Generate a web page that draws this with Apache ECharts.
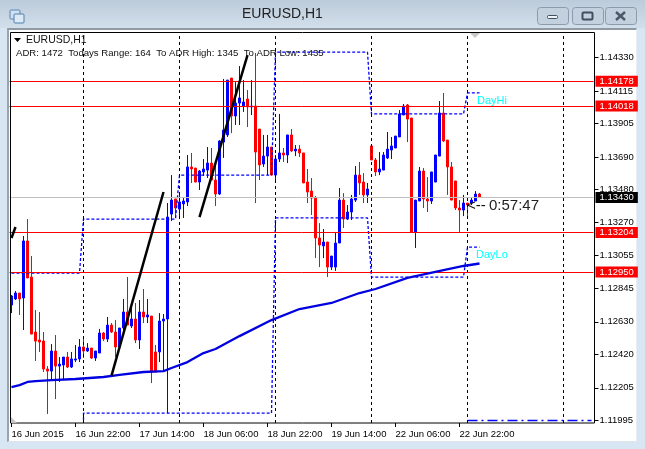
<!DOCTYPE html>
<html><head><meta charset="utf-8">
<script src="https://cdn.jsdelivr.net/npm/echarts@6/dist/echarts.min.js"></script>
<style>
html,body{margin:0;padding:0;width:645px;height:449px;overflow:hidden;background:#d8e5f2}
#top{position:absolute;left:0;top:0;width:645px;height:28px;background:linear-gradient(#bccbda,#d2dfeb)}
#panel{position:absolute;left:7px;top:28px;width:630px;height:414px;background:#fff;border-top:2px solid #8f9aa5;border-left:2px solid #9aa4ae;box-sizing:border-box;border-right:1px solid #e8eef4;border-bottom:1px solid #dfe4e9}
#c{position:absolute;left:0;top:0;width:645px;height:449px}
</style></head><body>
<div id="top"></div><div id="panel"></div><div id="c"></div>
<script>
const opens=[1.12738,1.12777,1.12815,1.12783,1.13150,1.12918,1.12564,1.12513,1.12506,1.12326,1.12313,1.12442,1.12345,1.12352,1.12403,1.12339,1.12384,1.12391,1.12468,1.12442,1.12461,1.12397,1.12429,1.12558,1.12519,1.12609,1.12564,1.12468,1.12590,1.12693,1.12603,1.12648,1.12513,1.12693,1.12661,1.12667,1.12436,1.12436,1.12635,1.12648,1.13323,1.13420,1.13355,1.13388,1.13401,1.13626,1.13619,1.13529,1.13594,1.13606,1.13651,1.13542,1.13452,1.13786,1.13832,1.14198,1.13954,1.14037,1.14018,1.14063,1.14012,1.14018,1.13870,1.13645,1.13696,1.13754,1.13574,1.13677,1.13716,1.13703,1.13832,1.13729,1.13741,1.13716,1.13529,1.13471,1.13426,1.13169,1.13118,1.13143,1.12982,1.12982,1.13137,1.13413,1.13291,1.13336,1.13413,1.13574,1.13529,1.13446,1.13761,1.13671,1.13594,1.13606,1.13684,1.13735,1.13748,1.13819,1.13960,1.14025,1.13941,1.13208,1.13407,1.13600,1.13420,1.13407,1.13529,1.13696,1.13973,1.13799,1.13626,1.13536,1.13362,1.13349,1.13394,1.13394,1.13407,1.13452];
const closes=[1.12796,1.12815,1.12777,1.13150,1.12912,1.12551,1.12506,1.12500,1.12326,1.12313,1.12442,1.12345,1.12358,1.12403,1.12339,1.12391,1.12391,1.12468,1.12442,1.12461,1.12397,1.12442,1.12558,1.12519,1.12609,1.12564,1.12468,1.12590,1.12693,1.12609,1.12648,1.12513,1.12693,1.12661,1.12674,1.12307,1.12307,1.12635,1.12648,1.13304,1.13413,1.13362,1.13401,1.13407,1.13626,1.13613,1.13529,1.13600,1.13613,1.13651,1.13542,1.13452,1.13793,1.13864,1.14185,1.13954,1.14037,1.14070,1.14044,1.14012,1.14018,1.13722,1.13639,1.13696,1.13754,1.13574,1.13677,1.13716,1.13703,1.13832,1.13729,1.13741,1.13716,1.13523,1.13465,1.13426,1.13169,1.13124,1.13143,1.12982,1.13053,1.13137,1.13413,1.13291,1.13336,1.13420,1.13574,1.13523,1.13446,1.13484,1.13671,1.13594,1.13613,1.13703,1.13741,1.13761,1.13825,1.13967,1.14018,1.13934,1.13208,1.13413,1.13600,1.13420,1.13407,1.13594,1.13703,1.13973,1.13793,1.13626,1.13413,1.13362,1.13349,1.13394,1.13381,1.13413,1.13452,1.13430];
const lows=[1.12686,1.12770,1.12674,1.12577,1.12912,1.12551,1.12378,1.12436,1.12307,1.12037,1.12255,1.12133,1.12243,1.12255,1.12333,1.12333,1.12371,1.12371,1.12397,1.12436,1.12391,1.12378,1.12429,1.12506,1.12500,1.12558,1.12403,1.12448,1.12577,1.12609,1.12590,1.12493,1.12455,1.12622,1.12622,1.12236,1.12307,1.12371,1.12307,1.12043,1.13278,1.13298,1.13291,1.13298,1.13375,1.13523,1.13529,1.13478,1.13568,1.13555,1.13542,1.13375,1.13446,1.13684,1.13819,1.13844,1.13896,1.13896,1.13980,1.13883,1.13960,1.13394,1.13542,1.13626,1.13574,1.13574,1.13542,1.13658,1.13658,1.13651,1.13722,1.13696,1.13690,1.13523,1.13394,1.13317,1.13040,1.12982,1.13040,1.12918,1.12963,1.12957,1.13137,1.13233,1.13285,1.13285,1.13401,1.13446,1.13394,1.13394,1.13671,1.13568,1.13574,1.13606,1.13677,1.13677,1.13748,1.13819,1.13960,1.13786,1.13208,1.13105,1.13407,1.13362,1.13336,1.13388,1.13529,1.13696,1.13786,1.13446,1.13413,1.13349,1.13208,1.13310,1.13298,1.13381,1.13407,1.13426];
const highs=[1.12802,1.12828,1.12815,1.13182,1.13291,1.13053,1.12706,1.12693,1.12564,1.12345,1.12487,1.12545,1.12403,1.12403,1.12436,1.12436,1.12481,1.12519,1.12526,1.12493,1.12461,1.12442,1.12584,1.12564,1.12661,1.12622,1.12641,1.12590,1.12777,1.12918,1.12725,1.12751,1.12770,1.12841,1.12777,1.12667,1.12481,1.12686,1.12680,1.13394,1.13574,1.13420,1.13465,1.13426,1.13703,1.13716,1.13619,1.13606,1.13677,1.13754,1.13748,1.13671,1.13799,1.14192,1.14185,1.14198,1.14172,1.14275,1.14185,1.14121,1.14185,1.14359,1.13870,1.13832,1.13832,1.13754,1.13703,1.13967,1.13748,1.13832,1.13870,1.13767,1.13767,1.13716,1.13613,1.13555,1.13439,1.13265,1.13227,1.13143,1.13053,1.13208,1.13491,1.13458,1.13381,1.13446,1.13632,1.13658,1.13587,1.13523,1.13767,1.13684,1.13722,1.13722,1.13851,1.13819,1.13825,1.13992,1.14031,1.14031,1.13941,1.13413,1.13626,1.13619,1.13561,1.13594,1.13703,1.14050,1.14102,1.13799,1.13658,1.13536,1.13413,1.13446,1.13394,1.13433,1.13471,1.13458];
const maLine=[[0,1.12210],[2,1.12223],[4,1.12243],[6,1.12249],[10,1.12255],[16,1.12262],[23,1.12275],[27,1.12288],[33,1.12307],[38,1.12313],[40,1.12333],[44,1.12371],[48,1.12429],[51,1.12455],[57,1.12538],[65,1.12641],[72,1.12712],[80,1.12751],[87,1.12815],[91,1.12841],[99,1.12912],[108,1.12963],[113,1.12989],[117,1.13005]];
const dayHigh=[[0,1.12944],[17,1.12944],[18,1.13291],[41,1.13291],[42,1.13574],[65,1.13574],[66,1.14365],[89,1.14365],[90,1.13967],[113,1.13967],[114,1.14102],[117,1.14102]];
const dayLow=[[18,1.11999],[18,1.12043],[65,1.12043],[66,1.13298],[89,1.13298],[90,1.12918],[113,1.12918],[114,1.13111],[117,1.13111]];
const pivotLine=[[114,1.11995],[145,1.11995]];
const trendA=[[25,1.12284],[38,1.13465]];
const trendB=[[47,1.13304],[59,1.14346]];
const trendC=[[0,1.13169],[1,1.13240]];
const redLevels=[1.14178,1.14018,1.13204,1.12950];
const lastPrice=1.13430;
const separators=[18,42,66,90,114,138];
const yTicks=[1.14330,1.14115,1.13905,1.13690,1.13480,1.13270,1.13055,1.12845,1.12630,1.12420,1.12205,1.11995];
const xLabels={0:'16 Jun 2015',16:'16 Jun 22:00',32:'17 Jun 14:00',48:'18 Jun 06:00',64:'18 Jun 22:00',80:'19 Jun 14:00',96:'22 Jun 06:00',112:'22 Jun 22:00'};
const slotCount=146;

const categories=Array.from({length:slotCount},(_,i)=>xLabels[i]||'');
const candles=opens.map((o,i)=>[o,closes[i],lows[i],highs[i]]);
const UI='"Liberation Sans",Arial,sans-serif';
const flag=(v,bg)=>({yAxis:v,label:{show:true,position:'end',distance:2,formatter:v.toFixed(5),color:'#fff',backgroundColor:bg,padding:[1,4,0,4],lineHeight:10,fontSize:9.5,fontFamily:UI}});
const lineS=(data,color,width,type,z)=>({type:'line',data,showSymbol:false,silent:true,z,lineStyle:{color,width,type},itemStyle:{color}});

const chart=echarts.init(document.getElementById('c'),null,{renderer:'canvas'});
chart.setOption({
 animation:false,
 backgroundColor:'transparent',
 grid:{left:9.5,top:32.5,width:584,height:390.5},
 xAxis:{type:'category',data:categories,boundaryGap:true,
  axisLine:{show:false},
  axisTick:{show:true,alignWithLabel:true,length:4,lineStyle:{color:'#000'},interval:(i)=>xLabels[i]!==undefined},
  axisLabel:{show:true,interval:(i)=>xLabels[i]!==undefined,align:'left',margin:6,fontSize:9.5,color:'#000',fontFamily:UI,hideOverlap:false},
  splitLine:{show:false}},
 yAxis:{type:'value',position:'right',offset:1,min:1.11979,max:1.14491,scale:true,
  axisLine:{show:false},
  axisTick:{show:true,length:4,lineStyle:{color:'#000'},customValues:yTicks},
  axisLabel:{show:true,customValues:yTicks,margin:5,fontSize:9.5,color:'#000',fontFamily:UI,formatter:(v)=>v.toFixed(5)},
  splitLine:{show:false}},
 series:[
  {type:'line',data:[],silent:true,z:1,markLine:{precision:5,silent:true,symbol:'none',animation:false,
    lineStyle:{color:'#c0c0c0',width:1,type:'solid'},
    data:[flag(lastPrice,'#000')]}},
  {type:'candlestick',data:candles,barWidth:3,silent:true,z:2,clip:true,
   itemStyle:{color:'#0000ff',color0:'#ff0000',borderColor:'#0000ff',borderColor0:'#ff0000',borderWidth:1}},
  {type:'line',data:[],silent:true,z:3,markLine:{silent:true,symbol:'none',animation:false,
    lineStyle:{color:'#000',width:1,type:[3,3]},label:{show:false},
    data:separators.map(i=>({xAxis:i}))}},
  lineS(dayHigh,'#0000ff',1.3,[3,2],4),
  lineS(dayLow,'#0000ff',1.3,[3,2],4),
  lineS(pivotLine,'#0000ff',1.3,[10,4,2,4],4),
  lineS(maLine,'#0000e0',2.3,'solid',5),
  lineS(trendA,'#000',2.5,'solid',6),
  lineS(trendB,'#000',2.5,'solid',6),
  lineS(trendC,'#000',2.5,'solid',6),
  {type:'line',data:[],silent:true,z:7,markLine:{precision:5,silent:true,symbol:'none',animation:false,
    lineStyle:{color:'#ff0000',width:1,type:'solid'},
    data:redLevels.map(v=>flag(v,'#ff0000'))}}
 ],
 graphic:[
  {type:'rect',z:50,shape:{x:10.5,y:32.5,width:584,height:390.5},style:{fill:'none',stroke:'#000',lineWidth:1}},
  {type:'polygon',z:51,shape:{points:[[11,417],[11,423],[17,423]]},style:{fill:'#c4c4c4'}},
  {type:'polygon',z:51,shape:{points:[[470,33],[480,33],[475,38]]},style:{fill:'#c8c8c8'}},
  {type:'polygon',z:51,shape:{points:[[14,38],[21,38],[17.5,42]]},style:{fill:'#000'}},
  {type:'text',z:51,x:26,y:35,style:{text:'EURUSD,H1',font:'10.5px '+UI,fill:'#111'}},
  {type:'text',z:51,x:16,y:48,style:{text:'ADR: 1472  Todays Range: 164  To ADR High: 1345  To ADR Low: 1435',font:'9.6px '+UI,fill:'#111'}},
  {type:'text',z:51,x:242,y:7,style:{text:'EURUSD,H1',font:'14px '+UI,fill:'#222'}},
  {type:'text',z:51,x:477,y:95,style:{text:'DayHi',font:'11px '+UI,fill:'#00ffff'}},
  {type:'text',z:51,x:476,y:249,style:{text:'DayLo',font:'11px '+UI,fill:'#00ffff'}},
  {type:'text',z:51,x:467,y:198,style:{text:'<--',font:'15px '+UI,fill:'#111'}},
  {type:'text',z:51,x:489,y:198,style:{text:'0:57:47',font:'15px '+UI,fill:'#222'}},
  {type:'rect',z:51,shape:{x:10,y:10,width:10,height:9,r:1},style:{fill:'#cfe0f0',stroke:'#5b86b0',lineWidth:1}},
  {type:'rect',z:52,shape:{x:14,y:14,width:10,height:9,r:1},style:{fill:'#dceaf6',stroke:'#4f7fae',lineWidth:1}},
  {type:'rect',z:51,shape:{x:537.5,y:7.5,width:31,height:17,r:3},style:{fill:'#c3d1df',stroke:'#8a9bac',lineWidth:1}},
  {type:'rect',z:51,shape:{x:572.5,y:7.5,width:31,height:17,r:3},style:{fill:'#c3d1df',stroke:'#8a9bac',lineWidth:1}},
  {type:'rect',z:51,shape:{x:605.5,y:7.5,width:31,height:17,r:3},style:{fill:'#c3d1df',stroke:'#8a9bac',lineWidth:1}},
  {type:'rect',z:52,shape:{x:547.5,y:15.5,width:10,height:3,r:1},style:{fill:'#eef3f8',stroke:'#3f4f5f',lineWidth:1}},
  {type:'rect',z:52,shape:{x:582.5,y:12.5,width:10,height:7,r:1},style:{fill:'none',stroke:'#3f4f5f',lineWidth:2}},
  {type:'line',z:52,shape:{x1:616,y1:12,x2:625,y2:20},style:{stroke:'#4a5a6a',lineWidth:2.5}},
  {type:'line',z:52,shape:{x1:625,y1:12,x2:616,y2:20},style:{stroke:'#4a5a6a',lineWidth:2.5}}
 ]
});
</script></body></html>
